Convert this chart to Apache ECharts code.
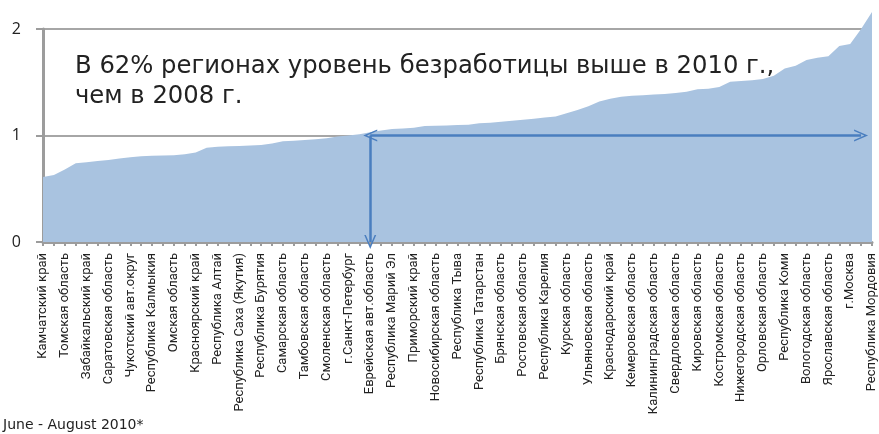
<!DOCTYPE html>
<html>
<head>
<meta charset="utf-8">
<script src="https://cdn.jsdelivr.net/npm/echarts@6/dist/echarts.min.js"></script>
<style>
  html, body { margin: 0; padding: 0; background: #fff; }
  #chart { width: 879px; height: 434px; }
</style>
</head>
<body>
<div id="chart"></div>
<script>
// подписанные регионы (каждый второй на оси)
var shownRegions = [
  'Камчатский край', 'Томская область', 'Забайкальский край', 'Саратовская область',
  'Чукотский авт.округ', 'Республика Калмыкия', 'Омская область', 'Красноярский край',
  'Республика Алтай', 'Республика Саха (Якутия)', 'Республика Бурятия', 'Самарская область',
  'Тамбовская область', 'Смоленская область', 'г.Санкт-Петербург', 'Еврейская авт.область',
  'Республика Марий Эл', 'Приморский край', 'Новосибирская область', 'Республика Тыва',
  'Республика Татарстан', 'Брянская область', 'Ростовская область', 'Республика Карелия',
  'Курская область', 'Ульяновская область', 'Краснодарский край', 'Кемеровская область',
  'Калининградская область', 'Свердловская область', 'Кировская область', 'Костромская область',
  'Нижегородская область', 'Орловская область', 'Республика Коми', 'Вологодская область',
  'Ярославская область', 'г.Москва', 'Республика Мордовия'
]

// безработица 2010 / 2008, по возрастанию
var ratios = [
  0.61, 0.63, 0.68, 0.74, 0.75, 0.76, 0.77, 0.785, 0.795, 0.805,
  0.81, 0.812, 0.815, 0.825, 0.84, 0.885, 0.895, 0.9, 0.902, 0.905,
  0.91, 0.925, 0.945, 0.95, 0.958, 0.965, 0.975, 0.99, 1.0, 1.012,
  1.03, 1.048, 1.06, 1.065, 1.072, 1.09, 1.092, 1.095, 1.098, 1.1,
  1.115, 1.12, 1.13, 1.138, 1.148, 1.158, 1.168, 1.178, 1.21, 1.24,
  1.275, 1.32, 1.345, 1.365, 1.373, 1.378, 1.385, 1.39, 1.4, 1.41,
  1.435, 1.44, 1.455, 1.505, 1.512, 1.518, 1.53, 1.56, 1.628, 1.655,
  1.71, 1.73, 1.745, 1.84, 1.86, 2.0, 2.16
]

var yTicks = [0, 1, 2]

// неподписанные регионы - заглушки, на оси не видны
var categories = ratios.map(function (v, i) {
  return i % 2 === 0 ? shownRegions[i / 2] : '#' + i
})

var chevron = 'path://M0,12 L6,0 L12,12 L10.4,12 L6,3.2 L1.6,12 Z'
var arrowColor = '#4a7ebf'
var gray = '#9c9c9c'

var chart = echarts.init(document.getElementById('chart'))
chart.setOption({
  animation: false,
  grid: { left: 43, right: 7, top: 29, bottom: 192 },
  xAxis: {
    type: 'category',
    data: categories,
    boundaryGap: false,
    axisLine: { lineStyle: { color: gray, width: 3 } },
    axisTick: { interval: 0, length: 4, lineStyle: { color: gray, width: 2 } },
    axisLabel: {
      interval: 1,
      rotate: 90,
      margin: 11,
      color: '#222',
      fontSize: 13,
      fontFamily: 'Liberation Sans Narrow, Arial Narrow, Roboto, sans-serif'
    }
  },
  yAxis: {
    type: 'value',
    min: yTicks[0],
    max: yTicks[yTicks.length - 1],
    interval: 1,
    axisLine: { show: true, lineStyle: { color: gray, width: 3 } },
    axisTick: { show: true, length: 7, lineStyle: { color: gray, width: 2 } },
    splitLine: { lineStyle: { color: '#a6a6a6', width: 2 } },
    axisLabel: {
      color: '#222',
      fontSize: 16,
      margin: 22,
      fontFamily: 'Open Sans, sans-serif'
    }
  },
  series: [{
    type: 'line',
    data: ratios,
    clip: false,
    showSymbol: false,
    lineStyle: { width: 0 },
    areaStyle: { color: '#a9c3e0', opacity: 1 },
    markLine: {
      silent: true,
      symbolSize: [12, 14],
      lineStyle: { color: arrowColor, width: 2.5, type: 'solid' },
      label: { show: false },
      data: [
        [
          { coord: [30, 1], symbol: 'none' },
          { coord: [30, 0], symbol: chevron }
        ],
        [
          { coord: [30, 1], symbol: chevron },
          { coord: [75, 1], symbol: chevron }
        ]
      ]
    }
  }],
  graphic: [
    {
      type: 'text',
      left: 75,
      top: 52,
      style: {
        text: 'В 62% регионах уровень безработицы выше в 2010 г.,\nчем в 2008 г.',
        fill: '#222',
        font: '24.3px "DejaVu Sans", sans-serif',
        lineHeight: 30
      }
    },
    {
      type: 'text',
      left: 3,
      top: 418,
      style: {
        text: 'June - August 2010*',
        fill: '#222',
        font: '14px "DejaVu Sans", sans-serif'
      }
    }
  ]
})
</script>
</body>
</html>
